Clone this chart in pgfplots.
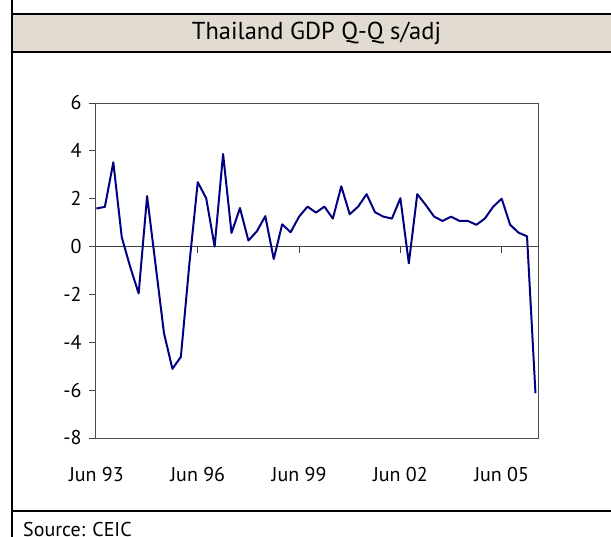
\documentclass[border=0pt]{standalone}
\usepackage{fontspec}
\setmainfont{PT Sans}
\usepackage{pgfplots}
\pgfplotsset{compat=1.18}
\definecolor{bandbg}{HTML}{E2DBD1}
\definecolor{navyline}{HTML}{000080}
\begin{document}
\begin{tikzpicture}
\useasboundingbox (0,0) rectangle (611pt,536pt);
\clip (0,0) rectangle (611pt,536pt);
% frame
\fill[bandbg] (12pt,484pt) rectangle (640pt,522pt);
\draw[black, line width=2pt] (12pt,560pt) -- (12pt,-20pt);
\draw[black, line width=2pt] (11pt,522pt) -- (640pt,522pt);
\draw[black, line width=2pt] (11pt,484pt) -- (640pt,484pt);
\draw[black, line width=2pt] (11pt,25pt) -- (640pt,25pt);
\node[font=\fontsize{24.5}{28}\selectfont, anchor=center] at (316.5pt,503pt) {Thailand GDP Q-Q s/adj};
\node[font=\fontsize{20}{24}\selectfont, anchor=base west, inner sep=0pt] at (23pt,-1pt) {Source: CEIC};
\begin{axis}[
  at={(95pt,98pt)}, anchor=south west,
  scale only axis, width=443pt, height=335pt,
  xmin=-0.17, xmax=52.3, ymin=-8, ymax=6,
  ytick={-8,-6,...,6},
  xtick={0,12,24,36,48},
  xticklabels={Jun 93,Jun 96,Jun 99,Jun 02,Jun 05},
  xtick style={draw=none},
  ytick pos=left,
  ytick style={black!75, line width=0.8pt},
  tick align=outside,
  major tick length=6pt,
  axis line style={black!70, line width=0.8pt},
  ticklabel style={font=\fontsize{20}{24}\selectfont},
  xticklabel style={yshift=-20pt},
  yticklabel style={xshift=-4pt},
  /pgf/number format/assume math mode=true,
  clip=false,
]
\draw[black!75, line width=1pt] (axis cs:-0.17,0) -- (axis cs:52.3,0);
\draw[black!75, line width=0.8pt] (axis cs:12,0) -- (axis cs:12,-0.25);
\draw[black!75, line width=0.8pt] (axis cs:24,0) -- (axis cs:24,-0.25);
\draw[black!75, line width=0.8pt] (axis cs:36,0) -- (axis cs:36,-0.25);
\draw[black!75, line width=0.8pt] (axis cs:48,0) -- (axis cs:48,-0.25);
\addplot[navyline, line width=2pt, mark=none, line join=round] coordinates {
(0,1.59) (1,1.66) (2,3.52) (3,0.39) (4,-0.85) (5,-1.96) (6,2.11) (7,-0.75)
(8,-3.62) (9,-5.11) (10,-4.61) (11,-0.75) (12,2.69) (13,2.02) (14,0.0) (15,3.87)
(16,0.57) (17,1.61) (18,0.25) (19,0.64) (20,1.27) (21,-0.52) (22,0.93) (23,0.60)
(24,1.25) (25,1.67) (26,1.42) (27,1.67) (28,1.17) (29,2.52) (30,1.35) (31,1.67)
(32,2.19) (33,1.43) (34,1.25) (35,1.17) (36,2.02) (37,-0.70) (38,2.19) (39,1.74)
(40,1.25) (41,1.07) (42,1.25) (43,1.07) (44,1.07) (45,0.91) (46,1.17) (47,1.67)
(48,2.00) (49,0.91) (50,0.58) (51,0.43) (52,-6.13)
};
\end{axis}
\end{tikzpicture}
\end{document}
